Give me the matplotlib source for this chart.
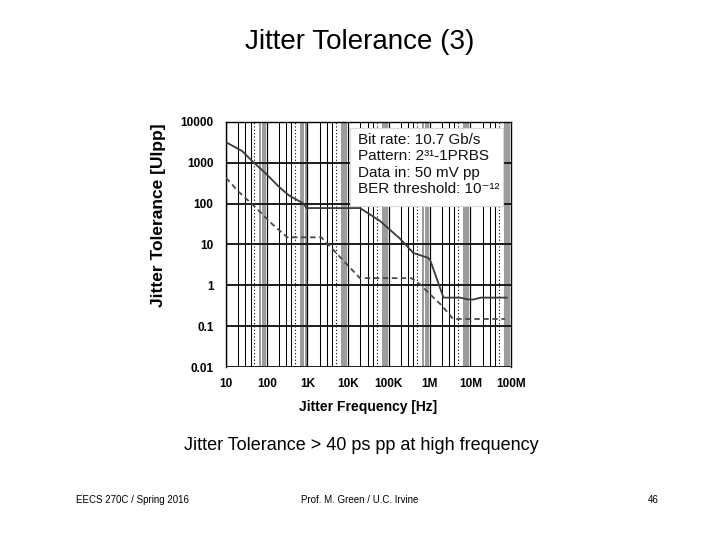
import matplotlib
matplotlib.use("Agg")
import matplotlib.pyplot as plt
from matplotlib.patches import Rectangle

plt.rcParams['font.family'] = ['Liberation Sans', 'DejaVu Sans']

# jitter tolerance curves (Hz, UIpp)
solid_freq = [10, 25, 44, 93, 195, 350, 810, 950, 19500, 60000, 186000,
              400000, 930000, 1.02e6, 2.2e6, 5.6e6, 8.9e6, 1.2e7, 1.8e7, 7.9e7]
solid_tol = [3200, 1940, 1100, 560, 265, 160, 100, 78, 78, 38, 14,
             6.2, 4.7, 4.3, 0.5, 0.5, 0.45, 0.45, 0.5, 0.5]

dashed_freq = [10, 20, 52, 135, 320, 2200, 19500, 355000, 590000, 933000,
               2.0e6, 3.8e6, 7.1e7]
dashed_tol = [430, 200, 83, 32, 15, 15, 1.5, 1.5, 1.05, 0.66, 0.32, 0.15, 0.15]

x_ticks = [10, 100, 1e3, 1e4, 1e5, 1e6, 1e7, 1e8]
x_ticklabels = ['10', '100', '1K', '10K', '100K', '1M', '10M', '100M']
y_ticks = [0.01, 0.1, 1, 10, 100, 1000, 10000]
y_ticklabels = ['0.01', '0.1', '1', '10', '100', '1000', '10000']

info_lines = ['Bit rate: 10.7 Gb/s',
              'Pattern: 2\u00b3\u00b9-1PRBS',
              'Data in: 50 mV pp',
              'BER threshold: 10\u207b\u00b9\u00b2']

fig = plt.figure(figsize=(7.2, 5.4), dpi=100)
ax = fig.add_axes([226 / 720, 1 - 367 / 540, 285 / 720, 245 / 540])
ax.set_xscale('log')
ax.set_yscale('log')
ax.set_xlim(10, 1e8)
ax.set_ylim(0.01, 10000)

# scanned-style grid: decades + 2,3,4 solid, 5 dotted, 7-9 grey band
for k in range(1, 8):
    base = 10 ** k
    ax.axvline(base, color='black', lw=0.9, zorder=1)
    for m in (2, 3, 4):
        ax.axvline(m * base, color='black', lw=0.75, zorder=1)
    ax.axvline(5 * base, color='black', lw=0.8, ls=(0, (1, 2)), zorder=1)
    for m in (7, 8, 9):
        ax.axvline(m * base, color='#9a9a9a', lw=1.4, zorder=1)
for yv in y_ticks:
    ax.axhline(yv, color='#1a1a1a', lw=1.4, zorder=2)

# info box covering upper right of the grid
ax.add_patch(Rectangle((0.435, 0.658), 0.537, 0.318, transform=ax.transAxes,
                       facecolor='white', edgecolor='#d8d8d8', lw=0.8, zorder=3))

ax.plot(solid_freq, solid_tol, color='#3a3a3a', lw=1.3, zorder=4)
ax.plot(dashed_freq, dashed_tol, color='#4a4a4a', lw=1.3, ls=(0, (3, 2)), zorder=4)

ax.set_xticks(x_ticks)
ax.set_xticklabels(x_ticklabels, fontsize=8.5, fontweight='bold')
ax.set_yticks(y_ticks)
ax.set_yticklabels(y_ticklabels, fontsize=8.5, fontweight='bold')
ax.minorticks_off()
ax.tick_params(axis='both', length=0)
ax.tick_params(axis='y', pad=9)
ax.tick_params(axis='x', pad=8)
for side in ('top', 'right', 'left'):
    ax.spines[side].set_color('black')
    ax.spines[side].set_linewidth(1.0)
ax.spines['bottom'].set_visible(False)

ax.set_xlabel('Jitter Frequency [Hz]', fontsize=10, fontweight='bold', labelpad=7)
fig.text(158 / 720, 1 - 215 / 540, 'Jitter Tolerance [UIpp]', fontsize=12.5,
         fontweight='bold', rotation=90, ha='center', va='center')

for i, line in enumerate(info_lines):
    fig.text(358 / 720, 1 - (140 + i * 16.5) / 540, line, fontsize=11,
             ha='left', va='center', color='#111111')

fig.text(0.5, 1 - 42 / 540, 'Jitter Tolerance (3)', fontsize=20,
         ha='center', va='center')
fig.text(361 / 720, 1 - 446 / 540, 'Jitter Tolerance > 40 ps pp at high frequency',
         fontsize=13, ha='center', va='center')
fig.text(132 / 720, 1 - 500 / 540, 'EECS 270C / Spring 2016', fontsize=7,
         ha='center', va='center')
fig.text(360 / 720, 1 - 500 / 540, 'Prof. M. Green / U.C. Irvine', fontsize=7,
         ha='center', va='center')
fig.text(653 / 720, 1 - 500 / 540, '46', fontsize=7, ha='center', va='center')

fig.savefig('out.png', dpi=100, facecolor='white')
